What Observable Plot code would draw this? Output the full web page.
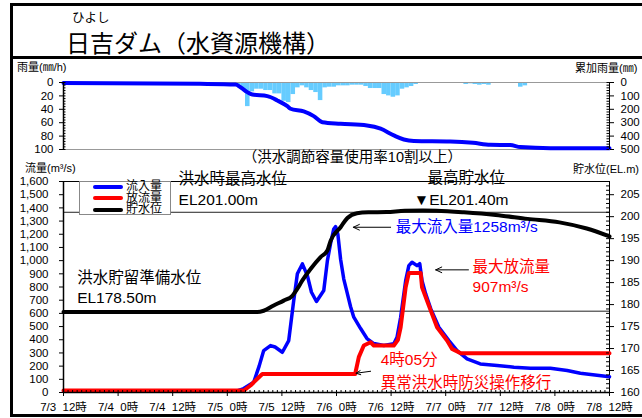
<!DOCTYPE html>
<html><head><meta charset="utf-8">
<script src="https://cdn.jsdelivr.net/npm/d3@7"></script>
<script src="https://cdn.jsdelivr.net/npm/@observablehq/plot@0.6"></script>
<style>
body{margin:0;background:#fff;}
#root{position:relative;width:642px;height:418px;overflow:hidden;background:#fff;font-family:"Liberation Sans","Noto Sans CJK JP",sans-serif;color:#000;}
.abs{position:absolute;white-space:nowrap;line-height:1;}
.lbl{position:absolute;white-space:nowrap;line-height:1;transform:translateY(-50%);}
</style></head><body>
<div id="root">
  <div class="abs" style="left:10px;top:3px;width:700px;height:408px;border:3px solid #000"></div>
  <div class="abs" style="left:10px;top:56px;width:700px;height:3px;background:#000"></div>
  <div class="abs" style="left:72px;top:11px;font-size:12.5px;font-family:'Noto Sans CJK JP'">ひよし</div>
  <div class="abs" style="left:66px;top:30px;font-size:24px;font-family:'Noto Sans CJK JP'">日吉ダム（水資源機構）</div>
  <div class="lbl" style="left:17px;top:67px;font-size:11px">雨量(㎜/h)</div>
  <div class="lbl" style="left:575px;top:68px;font-size:11px">累加雨量(㎜)</div>
  <div class="lbl" style="left:25px;top:168px;font-size:11px">流量(m³/s)</div>
  <div class="lbl" style="left:573px;top:169px;font-size:11px">貯水位(EL.m)</div>
  <div id="topChart" class="abs" style="left:0;top:60px"></div>
  <div id="botChart" class="abs" style="left:0;top:150px"></div>
  <div id="legend"></div>
</div>
<script>
// ---- data ----
const xTickHours = [0,12,24,36,48,60,72,84,96,108,120];
const xTickLabels = ["7/3\u00a0\u00a012時","7/4\u00a0\u00a00時","7/4\u00a0\u00a012時","7/5\u00a0\u00a00時","7/5\u00a0\u00a012時","7/6\u00a0\u00a00時","7/6\u00a0\u00a012時","7/7\u00a0\u00a00時","7/7\u00a0\u00a012時","7/8\u00a0\u00a00時","7/8\u00a0\u00a012時"];

const rainTicks = [0,20,40,60,80,100];
const cumTicks = [0,100,200,300,400,500];
const flowTicks = [0,100,200,300,400,500,600,700,800,900,1000,1100,1200,1300,1400,1500,1600];
const levelTicks = [160,165,170,175,180,185,190,195,200,205];

// hourly rainfall (mm/h), hours since 7/3 12時
const rainHours = [37,38,39,40,41,42,43,44,45,46,47,48,49,50,51,52,53,54,55,56,57,58,59,60,61,62,63,64,65,66,67,68,69,70,71,72,73,74,75,76,77,88,89,90,91,92,93,100,101];
const rainValues = [2,5,12,36,14,10,10,12,12,17,17,28,30,18,8,5,8,12,15,27,8,7,7,5,5,5,4,4,4,6,9,9,9,18,20,22,20,10,8,6,3,3,2,3,4,3,4,7,5];

// cumulative rainfall (mm)
const cumHours = [0,30,37.8,38.9,40.4,41.5,44.8,47,49.2,49.9,52.8,55,56.9,60.9,66.7,69.7,72.6,74.8,77,85,90,93.8,98.2,100.4,107,120];
const cumValues = [3,10,15,35,72,90,102,134,177,196,216,251,296,308,321,345,395,425,436,440,450,465,467,482,490,490];

// inflow (m3/s)
const inHours = [0,38,39.6,41.8,43,44,45.5,46.5,48.1,49.5,50.6,51.4,52.5,53.6,54.5,55.6,57.2,58,58.7,59.4,59.8,60.3,60.9,61.6,62.4,63.1,63.8,65.3,66.7,68.2,70.4,72.6,73.3,74.1,75.2,75.9,76.6,77.7,78.3,78.8,79.6,80.7,82.5,84.7,86.5,88.7,91.6,95.3,99,102.6,107,110.7,113.6,120];
const inValues = [10,10,30,78,200,318,356,345,305,394,697,900,975,886,760,690,773,1000,1130,1240,1258,1200,1010,860,748,650,571,485,409,371,356,369,419,571,848,962,988,962,977,848,748,636,495,394,318,255,217,205,192,184,184,167,146,120];

// outflow (m3/s)
const outHours = [0,39.6,41.1,42.6,43.7,64.1,64.9,66,67.5,68.2,72.6,73.5,74.1,75.2,75.9,78.5,78.8,80.3,82.1,84.3,85.4,87.3,120];
const outValues = [15,15,53,104,140,140,268,356,381,356,356,400,495,798,907,907,798,659,495,394,331,298,298];

// reservoir level (EL.m)
const lvHours = [0,42.6,44,46.2,48.4,50.3,51.4,52.5,54.3,56.5,58,58.7,60.9,62.4,64.5,67,71,75,79,82,88,95,102,109,115,120];
const lvValues = [178.3,178.3,178.6,179.8,180.9,182,183.6,185.5,188.1,190.8,192.3,194.5,197.6,199.7,200.8,201.0,201.05,201.35,201.4,201.35,201.0,200.4,199.5,198.7,197.3,195.5];

const refLevels = [201.0, 178.5];

// annotations (x in hours, y in flow units)
const blackNotes = [
  {h:25.3, v:1615, t:"洪水時最高水位"},
  {h:25.3, v:1456, t:"EL201.00m"},
  {h:80.0, v:1627, t:"最高貯水位"},
  {h:77.0, v:1456, t:"▼EL201.40m"},
  {h:3.0, v:868, t:"洪水貯留準備水位"},
  {h:3.0, v:720, t:"EL178.50m"}
];
const subNote = [{h:63.5, v:1782, t:"（洪水調節容量使用率10割以上）"}];
const blueNotes = [{h:73.0, v:1253, t:"最大流入量1258m³/s"}];
const redNotes = [
  {h:89.9, v:948, t:"最大放流量"},
  {h:89.9, v:798, t:"907m³/s"},
  {h:69.7, v:250, t:"4時05分"},
  {h:69.7, v:72, t:"異常洪水時防災操作移行"}
];
const arrows = [
  {h1:71.9, v1:1253, h2:63.7, v2:1253},
  {h1:89.0, v1:930, h2:81.8, v2:930},
  {h1:67.5, v1:161, h2:64.3, v2:146}
];
const legendNames = ["流入量","放流量","貯水位"];
const legendColors = ["#0000ff","#ff0000","#000"];

// ---- build ----
const font = "'Liberation Sans','Noto Sans CJK JP',sans-serif";
const zip = (hs, vs) => hs.map((h,i)=>({h, v: vs[i]}));
const rain = zip(rainHours, rainValues);
const cum = zip(cumHours, cumValues);
const inflow = zip(inHours, inValues);
const outflow = zip(outHours, outValues);
const level = zip(lvHours, lvValues);
const K = 1600/48;
const lv2y = v => (v-160)*K;
const style = {background:"transparent", overflow:"visible", fontFamily:font, fontSize:"11.5px", color:"#000"};

const topPlot = Plot.plot({
  width:642, height:100,
  marginTop:22, marginBottom:11, marginLeft:63, marginRight:33,
  style,
  x:{domain:[0,120], axis:null},
  y:{domain:[0,100], reverse:true},
  marks:[
    Plot.rect(rain, {x1:"h", x2:d=>d.h+1, y1:()=>0, y2:"v", fill:"#66ccff"}),
    Plot.ruleY([0,100], {stroke:"#999", strokeWidth:1}),
    Plot.line(cum, {x:"h", y:d=>d.v/5, stroke:"#0000ff", strokeWidth:4, curve:"monotone-x"}),
    Plot.ruleX([0], {stroke:"#000", strokeWidth:1.5}),
    Plot.ruleX([120], {stroke:"#000", strokeWidth:1}),
    Plot.ruleY(d3.range(0,101,4), {x1:()=>0, x2:()=>0.55, stroke:"#000"}),
    Plot.ruleY(d3.range(0,101,4), {x1:()=>119.45, x2:()=>120, stroke:"#000"}),
    Plot.axisY(rainTicks, {anchor:"left", tickSize:4, tickPadding:6, label:null}),
    Plot.axisY(cumTicks.map(v=>v/5), {anchor:"right", tickSize:4, tickPadding:7, label:null, tickFormat:d=>Math.round(d*5)})
  ]
});
document.getElementById("topChart").append(topPlot);

const botPlot = Plot.plot({
  width:642, height:268,
  marginTop:31, marginBottom:26, marginLeft:63, marginRight:33,
  style,
  x:{domain:[0,120]},
  y:{domain:[0,1600]},
  marks:[
    Plot.ruleY(refLevels.map(lv2y), {stroke:"#222", strokeWidth:1}),
    Plot.ruleY([1600], {stroke:"#000", strokeWidth:1}),
    Plot.ruleX([120], {stroke:"#000", strokeWidth:1}),
    Plot.line(inflow, {x:"h", y:"v", stroke:"#0000ff", strokeWidth:3.5}),
    Plot.line(outflow, {x:"h", y:"v", stroke:"#ff0000", strokeWidth:4}),
    Plot.line(level, {x:"h", y:d=>lv2y(d.v), stroke:"#000", strokeWidth:4, curve:"monotone-x"}),
    Plot.ruleX([0], {stroke:"#000", strokeWidth:1.5}),
    Plot.ruleY([0], {stroke:"#000", strokeWidth:1.5}),
    Plot.ruleY(d3.range(160,209,1).map(lv2y), {x1:()=>119.35, x2:()=>120, stroke:"#000"}),
    Plot.ruleX(d3.range(0,121,1), {y1:()=>0, y2:()=>15, stroke:"#000"}),
    Plot.axisY(flowTicks, {anchor:"left", tickSize:4, tickPadding:11, label:null, tickFormat:d3.format(",")}),
    Plot.axisY(levelTicks.map(lv2y), {anchor:"right", tickSize:4, tickPadding:7, label:null, tickFormat:d=>Math.round(d/K+160)}),
    Plot.axisX(xTickHours, {anchor:"bottom", tickSize:4, tickPadding:6, label:null, tickFormat:d=>xTickLabels[Math.round(d/12)]}),
    Plot.arrow(arrows, {x1:"h1", y1:"v1", x2:"h2", y2:"v2", stroke:"#000", strokeWidth:1, headLength:10, headAngle:50}),
    Plot.text(blackNotes, {x:"h", y:"v", text:"t", textAnchor:"start", fill:"#000", fontSize:15.5, fontFamily:font}),
    Plot.text(subNote, {x:"h", y:"v", text:"t", textAnchor:"middle", fill:"#000", fontSize:14.5, fontFamily:font}),
    Plot.text(blueNotes, {x:"h", y:"v", text:"t", textAnchor:"start", fill:"#0000ff", fontSize:15.5, fontFamily:font}),
    Plot.text(redNotes, {x:"h", y:"v", text:"t", textAnchor:"start", fill:"#ff0000", fontSize:15.5, fontFamily:font})
  ]
});
document.getElementById("botChart").append(botPlot);

// legend
const lg = document.getElementById("legend");
const box = document.createElement("div");
box.className = "abs";
box.style.cssText = "left:79px;top:181px;width:90px;height:32px;border:1px solid #888;background:#fff";
lg.append(box);
const rowY = [186.7, 198.3, 210];
legendColors.forEach((col, i) => {
  const ln = document.createElement("div");
  ln.className = "abs";
  ln.style.cssText = `left:93px;top:${rowY[i]-2}px;width:30px;height:4px;border-radius:2px;background:${col}`;
  lg.append(ln);
});
const tx = document.createElement("div");
tx.className = "abs";
tx.style.cssText = "left:126px;top:181px;font-size:12px;line-height:11.65px;white-space:pre";
tx.textContent = legendNames.join("\n");
lg.append(tx);
</script>
</body></html>
